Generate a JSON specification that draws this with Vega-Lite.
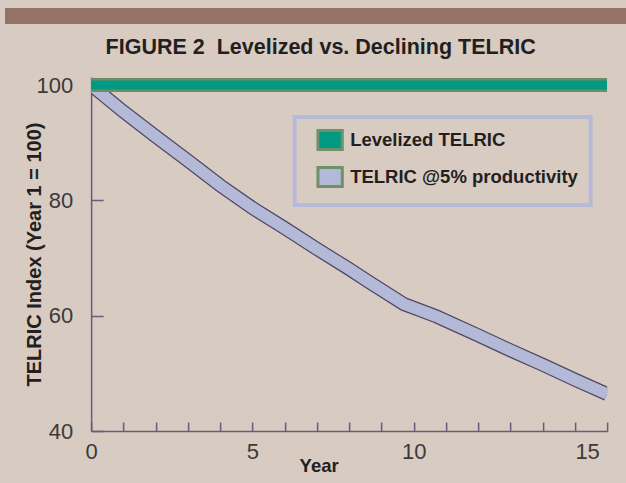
{
  "$schema": "https://vega.github.io/schema/vega-lite/v6.json",
  "background": "#d8cbc2",
  "padding": {"left": 5, "top": 8, "right": 0, "bottom": 10},
  "spacing": 12,
  "center": true,
  "resolve": {"scale": {"fill": "independent"}, "legend": {"fill": "independent"}},
  "datasets": {
    "series": [
      {"year": 0, "value": 100, "series": "Levelized TELRIC"},
      {"year": 16, "value": 100, "series": "Levelized TELRIC"},
      {"year": 0, "value": 100, "series": "TELRIC @5% productivity"},
      {"year": 1, "value": 95.4, "series": "TELRIC @5% productivity"},
      {"year": 2, "value": 91.1, "series": "TELRIC @5% productivity"},
      {"year": 3, "value": 86.9, "series": "TELRIC @5% productivity"},
      {"year": 4, "value": 82.6, "series": "TELRIC @5% productivity"},
      {"year": 5, "value": 78.7, "series": "TELRIC @5% productivity"},
      {"year": 6, "value": 75.2, "series": "TELRIC @5% productivity"},
      {"year": 7, "value": 71.6, "series": "TELRIC @5% productivity"},
      {"year": 8, "value": 68.1, "series": "TELRIC @5% productivity"},
      {"year": 8.6, "value": 65.9, "series": "TELRIC @5% productivity"},
      {"year": 9.7, "value": 62.0, "series": "TELRIC @5% productivity"},
      {"year": 10.7, "value": 59.9, "series": "TELRIC @5% productivity"},
      {"year": 12, "value": 56.6, "series": "TELRIC @5% productivity"},
      {"year": 13, "value": 54.0, "series": "TELRIC @5% productivity"},
      {"year": 14, "value": 51.5, "series": "TELRIC @5% productivity"},
      {"year": 15, "value": 48.9, "series": "TELRIC @5% productivity"},
      {"year": 16, "value": 46.4, "series": "TELRIC @5% productivity"}
    ]
  },
  "vconcat": [
    {
      "width": 689,
      "height": 16,
      "view": {"stroke": null, "fill": "#957266"},
      "data": {"values": [{"k": 1}]},
      "mark": {"type": "rect", "color": "#957266"}
    },
    {
      "width": 516,
      "height": 354,
      "title": {
        "text": "FIGURE 2\u00a0\u00a0Levelized vs. Declining TELRIC",
        "font": "Liberation Sans",
        "fontSize": 21.5,
        "fontWeight": "bold",
        "color": "#231f20",
        "anchor": "middle",
        "dx": -28.5,
        "offset": 16
      },
      "data": {"name": "series"},
      "encoding": {
        "x": {
          "field": "year",
          "type": "quantitative",
          "scale": {"domain": [0, 16], "nice": false, "zero": false},
          "axis": {
            "title": "Year",
            "values": [0, 1, 2, 3, 4, 5, 6, 7, 8, 9, 10, 11, 12, 13, 14, 15, 16],
            "labelExpr": "datum.value % 5 === 0 ? datum.label : ''",
            "labelAlign": {"condition": {"test": "datum.value === 15", "value": "left"}, "value": "center"},
            "labelFlush": false,
            "labelOverlap": false,
            "labelFont": "Liberation Sans",
            "labelFontSize": 22,
            "labelColor": "#3a3a3a",
            "labelPadding": 19,
            "tickSize": -9,
            "tickColor": "#675c7a",
            "tickWidth": 1.5,
            "domainColor": "#675c7a",
            "domainWidth": 1.5,
            "grid": false,
            "titleFont": "Liberation Sans",
            "titleFontSize": 18.5,
            "titleFontWeight": "bold",
            "titleColor": "#231f20",
            "titleX": 227.5,
            "titleY": 40,
            "titleBaseline": "alphabetic"
          }
        },
        "y": {
          "field": "value",
          "type": "quantitative",
          "scale": {"domain": [40, 101.4], "nice": false, "zero": false},
          "axis": {
            "title": "TELRIC Index (Year 1 = 100)",
            "values": [40, 60, 80, 100],
            "labelFont": "Liberation Sans",
            "labelFontSize": 22,
            "labelColor": "#3a3a3a",
            "labelPadding": 30.5,
            "tickSize": -12,
            "tickColor": "#675c7a",
            "tickWidth": 1.5,
            "domainColor": "#675c7a",
            "domainWidth": 1.5,
            "grid": false,
            "titleFont": "Liberation Sans",
            "titleFontSize": 20,
            "titleFontWeight": "bold",
            "titleColor": "#231f20",
            "titleX": -50.8,
            "titleY": 177,
            "titleBaseline": "alphabetic"
          }
        }
      },
      "layer": [
        {
          "transform": [{"filter": "datum.series === 'TELRIC @5% productivity'"}],
          "mark": {"type": "line", "clip": true, "strokeWidth": 14, "color": "#4f4866", "strokeCap": "butt"}
        },
        {
          "transform": [{"filter": "datum.series === 'TELRIC @5% productivity'"}],
          "mark": {"type": "line", "clip": true, "strokeWidth": 11.5, "color": "#b3b9d7", "strokeCap": "butt"}
        },
        {
          "transform": [{"filter": "datum.series === 'Levelized TELRIC'"}],
          "mark": {"type": "line", "clip": true, "strokeWidth": 14, "color": "#6e8c66", "strokeCap": "butt"}
        },
        {
          "transform": [{"filter": "datum.series === 'Levelized TELRIC'"}],
          "mark": {"type": "line", "clip": true, "strokeWidth": 9, "color": "#009a82", "strokeCap": "butt"}
        },
        {
          "transform": [{"filter": "false"}],
          "mark": {"type": "point", "filled": true, "shape": "M-1.28,-1H1.28V1H-1.28Z", "stroke": "#6f9068", "strokeWidth": 3, "opacity": 1},
          "encoding": {
            "fill": {
              "field": "series",
              "type": "nominal",
              "scale": {"domain": ["Levelized TELRIC", "TELRIC @5% productivity"], "range": ["#009a82", "#b3b9d7"]},
              "legend": {
                "title": null,
                "orient": "none",
                "legendX": 203.5,
                "legendY": 40,
                "padding": 12,
                "strokeColor": "#b4bad8",
                "symbolType": "M-1.28,-1H1.28V1H-1.28Z",
                "symbolSize": 361,
                "symbolStrokeWidth": 3,
                "symbolStrokeColor": "#6f9068",
                "symbolOffset": 12.5,
                "rowPadding": 5,
                "labelOffset": 9,
                "labelFont": "Liberation Sans",
                "labelFontSize": 18.5,
                "labelFontWeight": "bold",
                "labelColor": "#231f20",
                "labelLimit": 400
              }
            }
          }
        }
      ]
    }
  ],
  "config": {
    "view": {"stroke": null},
    "font": "Liberation Sans",
    "legend": {"strokeWidth": 4}
  }
}
